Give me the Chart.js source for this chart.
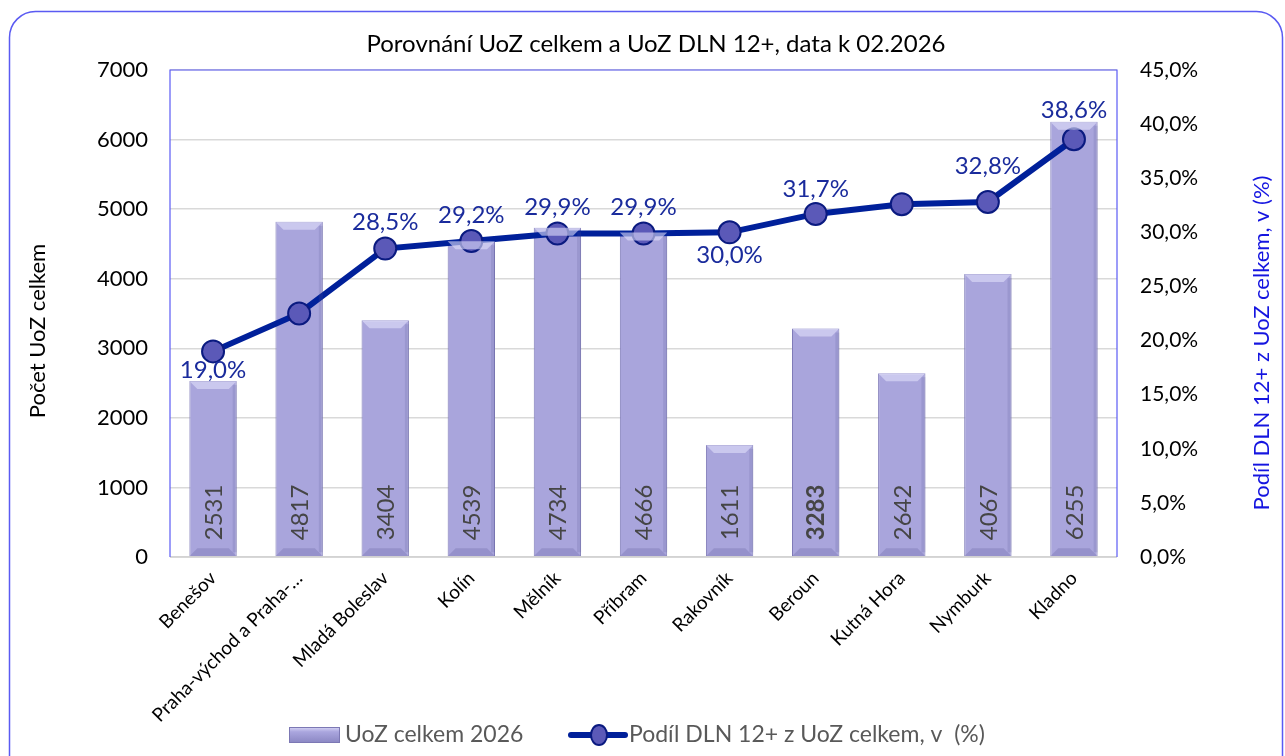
<!DOCTYPE html>
<html>
<head>
<meta charset="utf-8">
<script src="https://cdn.jsdelivr.net/npm/chart.js@4/dist/chart.umd.min.js"></script>
<style>
  body { margin: 0; background: #fff; }
  #wrap { width: 1285px; height: 756px; position: relative; }
</style>
</head>
<body>
<div id="wrap"><canvas id="chart" width="1285" height="756"></canvas></div>
<script>
// data
const categories = ['Benešov', 'Praha-východ a Praha-…', 'Mladá Boleslav', 'Kolín', 'Mělník',
    'Příbram', 'Rakovník', 'Beroun', 'Kutná Hora', 'Nymburk', 'Kladno'];
const uozTotal = [2531, 4817, 3404, 4539, 4734, 4666, 1611, 3283, 2642, 4067, 6255];
const dlnShare = [19.0, 22.5, 28.5, 29.2, 29.9, 29.9, 30.0, 31.7, 32.6, 32.8, 38.6];
const leftTicks = [0, 1000, 2000, 3000, 4000, 5000, 6000, 7000];
const rightTicks = [0, 5, 10, 15, 20, 25, 30, 35, 40, 45];

const titleText = 'Porovnání UoZ celkem a UoZ DLN 12+, data k 02.2026';
const leftTitle = 'Počet UoZ celkem';
const rightTitle = 'Podíl DLN 12+ z UoZ celkem, v (%)';
const barLabel = 'UoZ celkem 2026';
const lineLabel = 'Podíl DLN 12+ z UoZ celkem, v  (%)';

// which share labels are shown and where (null = hidden)
const shareLabelOffset = [19, null, -26, -26, -26, -26, 23, -25, null, -36, -29];
const boldBar = [false, false, false, false, false, false, false, true, false, false, false];

const FONT = 'Lato, "Noto Sans", sans-serif';
const fmtPct = v => v.toFixed(1).replace('.', ',') + '%';

const decor = {
    id: 'decor',
    beforeDraw(chart) {
        const c = chart.ctx;
        c.save();
        c.fillStyle = '#fff';
        c.fillRect(0, 0, chart.width, chart.height);
        // outer rounded frame
        c.strokeStyle = '#5a5af2';
        c.lineWidth = 1.5;
        c.beginPath();
        c.roundRect(9.5, 11.5, 1273, 780, 26);
        c.stroke();
        c.restore();
    },
    afterDatasetsDraw(chart) {
        const c = chart.ctx;
        const barMeta = chart.getDatasetMeta(0);
        c.save();
        // bar bevels
        barMeta.data.forEach(bar => {
            const l = bar.x - bar.width / 2, r = bar.x + bar.width / 2;
            const t = bar.y, b = bar.base, d = 8;
            c.fillStyle = 'rgba(225,224,250,0.6)';
            c.beginPath();
            c.moveTo(l, t); c.lineTo(r, t); c.lineTo(r - d, t + d); c.lineTo(l + d, t + d);
            c.closePath(); c.fill();
            c.fillStyle = 'rgba(90,86,150,0.25)';
            c.beginPath();
            c.moveTo(l, b); c.lineTo(r, b); c.lineTo(r - d, b - d); c.lineTo(l + d, b - d);
            c.closePath(); c.fill();
            c.fillStyle = 'rgba(90,86,150,0.18)';
            c.fillRect(r - 4, t + 4, 4, b - t - 8);
        });
        // bar values (vertical)
        c.fillStyle = '#454545';
        c.textBaseline = 'middle';
        c.textAlign = 'left';
        barMeta.data.forEach((bar, i) => {
            c.save();
            c.translate(bar.x + 1, bar.base - 16);
            c.rotate(-Math.PI / 2);
            c.font = (boldBar[i] ? 'bold ' : '') + '24px ' + FONT;
            c.fillText(String(uozTotal[i]), 0, 0);
            c.restore();
        });
        c.restore();
    },
    afterDraw(chart) {
        const c = chart.ctx;
        const a = chart.chartArea;
        c.save();
        // plot border
        c.strokeStyle = '#d0d0d0';
        c.lineWidth = 1.5;
        c.beginPath(); c.moveTo(a.left, a.bottom); c.lineTo(a.right, a.bottom); c.stroke();
        c.strokeStyle = '#5b5bf5';
        c.lineWidth = 1.2;
        c.beginPath();
        c.moveTo(a.left, a.bottom); c.lineTo(a.left, a.top); c.lineTo(a.right, a.top); c.lineTo(a.right, a.bottom);
        c.stroke();

        // share labels
        const lineMeta = chart.getDatasetMeta(1);
        c.fillStyle = '#1a2b9c';
        c.font = '24px ' + FONT;
        c.textAlign = 'center';
        c.textBaseline = 'middle';
        lineMeta.data.forEach((pt, i) => {
            if (shareLabelOffset[i] === null) return;
            c.fillText(fmtPct(dlnShare[i]), pt.x, pt.y + shareLabelOffset[i]);
        });

        // title
        c.fillStyle = '#000';
        c.font = '24px ' + FONT;
        c.fillText(titleText, 656, 44);

        // axis titles
        c.save();
        c.translate(38, 331);
        c.rotate(-Math.PI / 2);
        c.font = '22px ' + FONT;
        c.fillStyle = '#000';
        c.fillText(leftTitle, 0, 0);
        c.restore();
        c.save();
        c.translate(1262, 343);
        c.rotate(-Math.PI / 2);
        c.font = '22px ' + FONT;
        c.fillStyle = '#1515e0';
        c.fillText(rightTitle, 0, 0);
        c.restore();

        // legend
        const ly = 735;
        const g = c.createLinearGradient(0, ly - 8, 0, ly + 8);
        g.addColorStop(0, '#d8d6f6');
        g.addColorStop(0.3, '#aaa6de');
        g.addColorStop(1, '#8a86c2');
        c.fillStyle = g;
        c.fillRect(289, ly - 8, 51, 16);
        c.strokeStyle = '#7c78b4';
        c.lineWidth = 1;
        c.strokeRect(289.5, ly - 7.5, 50, 15);
        c.fillStyle = '#595959';
        c.font = '23px ' + FONT;
        c.textAlign = 'left';
        c.fillText(barLabel, 345, ly);
        c.strokeStyle = '#00209a';
        c.lineWidth = 6;
        c.lineCap = 'round';
        c.beginPath(); c.moveTo(571, ly); c.lineTo(625, ly); c.stroke();
        c.fillStyle = '#5b59b8';
        c.strokeStyle = '#0a1a80';
        c.lineWidth = 2;
        c.beginPath(); c.ellipse(599, ly, 8, 10, 0, 0, Math.PI * 2); c.fill(); c.stroke();
        c.fillStyle = '#595959';
        c.fillText(lineLabel, 629, ly);
        c.restore();
    }
};

new Chart(document.getElementById('chart'), {
    data: {
        labels: categories,
        datasets: [
            {
                type: 'bar',
                label: barLabel,
                data: uozTotal,
                yAxisID: 'y',
                backgroundColor: '#a9a5dc',
                borderColor: '#7f7bb8',
                borderWidth: 1,
                barPercentage: 0.55,
                categoryPercentage: 1,
                order: 2
            },
            {
                type: 'line',
                label: lineLabel,
                data: dlnShare,
                yAxisID: 'y1',
                borderColor: '#00209a',
                borderWidth: 6,
                pointRadius: 11,
                pointBackgroundColor: '#5b59b8',
                pointBorderColor: '#0a1a80',
                pointBorderWidth: 2,
                tension: 0,
                order: 1
            }
        ]
    },
    options: {
        responsive: false,
        animation: false,
        layout: { padding: { top: 70, left: 0, right: 0, bottom: 0 } },
        plugins: {
            legend: { display: false },
            title: { display: false },
            tooltip: { enabled: false }
        },
        scales: {
            x: {
                grid: { display: false },
                border: { display: false },
                ticks: {
                    color: '#000',
                    font: { family: FONT, size: 19 },
                    maxRotation: 45,
                    minRotation: 45,
                    autoSkip: false,
                    padding: 2
                },
                afterFit: s => { s.height = 199; }
            },
            y: {
                position: 'left',
                min: 0,
                max: 7000,
                afterBuildTicks: s => { s.ticks = leftTicks.map(v => ({ value: v })); },
                grid: { color: '#d9d9d9', lineWidth: 1.5, drawTicks: false },
                border: { display: false },
                ticks: {
                    color: '#000',
                    font: { family: FONT, size: 22 },
                    padding: 22,
                    callback: v => String(v)
                },
                afterFit: s => { s.width = 170; }
            },
            y1: {
                position: 'right',
                min: 0,
                max: 45,
                afterBuildTicks: s => { s.ticks = rightTicks.map(v => ({ value: v })); },
                grid: { display: false, drawTicks: false },
                border: { display: false },
                ticks: {
                    color: '#000',
                    font: { family: FONT, size: 21 },
                    padding: 23,
                    callback: v => fmtPct(v)
                },
                afterFit: s => { s.width = 168; }
            }
        }
    },
    plugins: [decor]
});
</script>
</body>
</html>
